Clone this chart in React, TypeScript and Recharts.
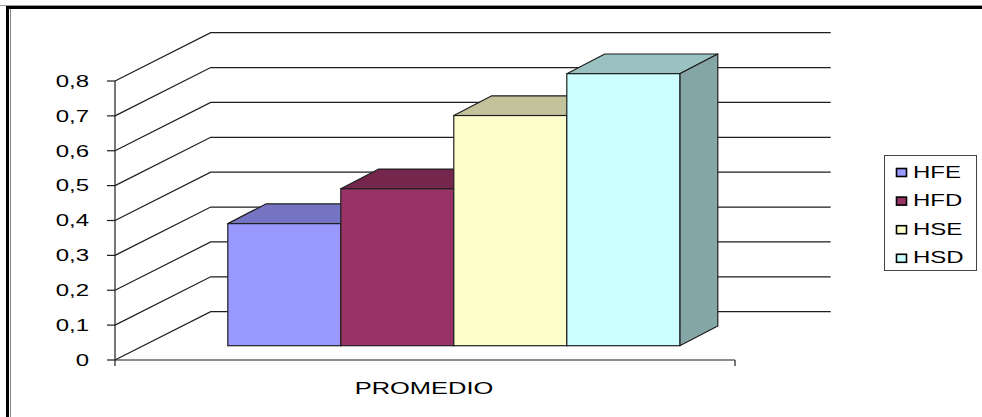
import { BarChart, Bar, XAxis, YAxis, CartesianGrid, Legend } from 'recharts'

// data
const categories = ['PROMEDIO']
const seriesNames = ['HFE', 'HFD', 'HSE', 'HSD']
const hfe = [0.35]
const hfd = [0.45]
const hse = [0.66]
const hsd = [0.78]
const yTicks = [0, 0.1, 0.2, 0.3, 0.4, 0.5, 0.6, 0.7, 0.8]

const seriesValues = [hfe, hfd, hse, hsd]
const chartData = categories.map((name, i) => {
  const row: Record<string, string | number> = { name }
  seriesNames.forEach((s, j) => {
    row[s] = seriesValues[j][i]
  })
  return row
})

// excel-ish 3d shading: front / top / side
const frontColors = ['#9999FF', '#993366', '#FFFFCC', '#CCFFFF']
const topColors = ['#7474C2', '#74264D', '#C2C29B', '#9BC2C2']
const sideColors = ['#6464A6', '#642142', '#A6A685', '#85A6A6']

// depth of the back wall and of the bars (oblique projection)
const WALL_DX = 95.7
const WALL_DY = 48.3
const BAR_OFF_X = 27.8
const BAR_OFF_Y = 14.3
const BAR_DX = 38
const BAR_DY = 19.7

const FONT = '"Liberation Sans", Arial, sans-serif'
const LINE = '#1e1e1e'

const fmtTick = (v: number) => (v === 0 ? '0' : v.toFixed(1).replace('.', ','))

function renderGridLine(p: any) {
  const { x1, x2, y1 } = p
  return (
    <path
      key={p.key}
      d={`M${x1},${y1}L${x1 + WALL_DX},${y1 - WALL_DY}L${x2 + WALL_DX},${y1 - WALL_DY}`}
      fill="none"
      stroke={LINE}
      strokeWidth={1.2}
    />
  )
}

function YTick(p: any) {
  const { x, y, payload } = p
  return (
    <g transform={`translate(${x} ${y}) scale(1.5 1)`}>
      <text x={0} y={5.8} textAnchor="end" fontSize={16} fontFamily={FONT} fill="#000">
        {fmtTick(payload.value)}
      </text>
    </g>
  )
}

function XTick(p: any) {
  const { x, y, payload } = p
  const half = payload.offset ?? 310
  return (
    <g>
      <line x1={x - half} y1={y - 8} x2={x - half} y2={y - 2} stroke={LINE} strokeWidth={1.2} />
      <line x1={x + half} y1={y - 8} x2={x + half} y2={y - 2} stroke={LINE} strokeWidth={1.2} />
      <g transform={`translate(${x - 1} ${y + 26}) scale(1.5 1)`}>
        <text x={0} y={0} textAnchor="middle" fontSize={17} fontFamily={FONT} fill="#000">
          {payload.value}
        </text>
      </g>
    </g>
  )
}

function makeBox(i: number) {
  return (p: any) => {
    const { x, y, width, height } = p
    const fx = x + BAR_OFF_X
    const fy = y - BAR_OFF_Y
    const r = fx + width
    const b = fy + height
    return (
      <g>
        <path
          d={`M${fx},${fy}L${fx + BAR_DX},${fy - BAR_DY}L${r + BAR_DX},${fy - BAR_DY}L${r},${fy}Z`}
          fill={topColors[i]}
          stroke={LINE}
          strokeWidth={1.2}
          strokeLinejoin="round"
        />
        <path
          d={`M${r},${fy}L${r + BAR_DX},${fy - BAR_DY}L${r + BAR_DX},${b - BAR_DY}L${r},${b}Z`}
          fill={sideColors[i]}
          stroke={LINE}
          strokeWidth={1.2}
          strokeLinejoin="round"
        />
        <rect x={fx} y={fy} width={width} height={height} fill={frontColors[i]} stroke={LINE} strokeWidth={1.2} />
      </g>
    )
  }
}

function LegendBox() {
  return (
    <svg width={93} height={116} style={{ display: 'block' }}>
      <rect x={0.5} y={0.5} width={92} height={115} fill="#fff" stroke="#444" strokeWidth={1} />
      {seriesNames.map((s, i) => (
        <g key={s}>
          <rect x={12.5} y={13.5 + i * 28.6} width={10} height={8} fill={frontColors[i]} stroke="#000" strokeWidth={1.6} />
          <g transform={`translate(29 ${22.5 + i * 28.6}) scale(1.5 1)`}>
            <text x={0} y={0} fontSize={16} fontFamily={FONT} fill="#000">
              {s}
            </text>
          </g>
        </g>
      ))}
    </svg>
  )
}

export default function App() {
  return (
    <div style={{ position: 'absolute', left: 0, top: 0, width: 982, height: 417, background: '#fff', overflow: 'hidden' }}>
      {/* outer frame */}
      <div style={{ position: 'absolute', left: 0, top: 4.5, width: 982, height: 1, background: '#999' }} />
      <div style={{ position: 'absolute', left: 6, top: 5.5, width: 976, height: 3, background: '#000' }} />
      <div style={{ position: 'absolute', left: 6, top: 5.5, width: 3, height: 412, background: '#000' }} />
      <div style={{ position: 'absolute', left: 9.5, top: 8.5, width: 1.5, height: 409, background: '#888' }} />
      <div style={{ position: 'absolute', left: 0, top: 0 }}>
        <BarChart
          width={982}
          height={417}
          data={chartData}
          margin={{ top: 81, right: 247, bottom: 17, left: 15 }}
          barCategoryGap={85}
          barGap={0}
        >
          <CartesianGrid vertical={false} horizontal={renderGridLine} />
          <XAxis
            dataKey="name"
            height={40}
            axisLine={{ stroke: LINE, strokeWidth: 1.2 }}
            tickLine={false}
            tick={<XTick />}
            interval={0}
          />
          <YAxis
            width={100}
            domain={[0, 0.8]}
            ticks={yTicks}
            interval={0}
            axisLine={{ stroke: LINE, strokeWidth: 1.2 }}
            tickLine={{ stroke: LINE, strokeWidth: 1.2 }}
            tickSize={8}
            tickMargin={18}
            tick={<YTick />}
          />
          <Legend
            layout="horizontal"
            verticalAlign="middle"
            align="center"
            wrapperStyle={{ left: 884, top: 155, width: 93, height: 116 }}
            content={() => <LegendBox />}
          />
          {seriesNames.map((s, i) => (
            <Bar key={s} dataKey={s} fill={frontColors[i]} shape={makeBox(i)} isAnimationActive={false} />
          ))}
        </BarChart>
      </div>
    </div>
  )
}
